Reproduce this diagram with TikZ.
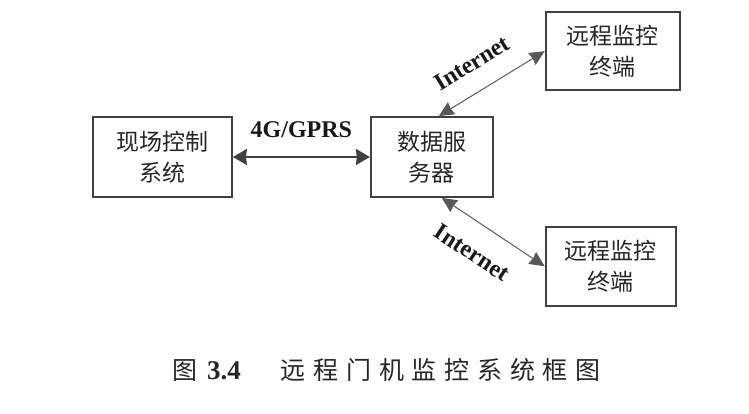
\documentclass[tikz,border=0pt]{standalone}
\usepackage{fontspec}
\setmainfont{Liberation Serif}
\newfontfamily\cjk{Noto Sans CJK SC}
\newfontfamily\cjkcap[LetterSpace=31]{Noto Sans CJK SC}
\newfontfamily\lbl{Liberation Serif}
\usetikzlibrary{positioning,arrows.meta}
\tikzset{
x=1pt, y=1pt,
block/.style={draw=black!75, line width=1.8pt, minimum height=80pt, align=center, text=black!85,
  font=\cjk\fontsize{23}{31}\selectfont},
link/.style={{Stealth[length=14pt,width=16pt,inset=1pt]}-{Stealth[length=14pt,width=16pt,inset=1pt]},
  line width=2.2pt, draw=black!75},
net/.style={{Stealth[length=15pt,width=14pt,inset=1pt]}-{Stealth[length=15pt,width=14pt,inset=1pt]},
  line width=1pt, draw=black!65},
tag/.style={font=\lbl\bfseries\fontsize{24}{28}\selectfont, text=black!90},
}

\begin{document}
\begin{tikzpicture}
        \useasboundingbox (0,0) rectangle (749,414);

        \node[block, minimum width=139pt] (site) at (162.5,257) {现场控制\\系统};
        \node[block, minimum width=122pt, right=137pt of site] (server) {数据服\\务器};
        \node[block, minimum width=134pt, minimum height=78pt, above right=25pt and 51pt of server.north east] (mon1) {远程监控\\终端};
        \node[block, minimum width=130pt, minimum height=79pt, below right=28pt and 51pt of server.south east] (mon2) {远程监控\\终端};

        \draw[link] (site) -- node[tag, above=15pt] (gprs) {4G/GPRS} (server);
        \draw[net] ([xshift=7pt]server.north) -- node[tag, sloped, above=16pt, pos=0.45] (net1) {Internet} (mon1.west);
        \draw[net] ([xshift=10pt]server.south) -- node[tag, sloped, below=17pt, pos=0.45] (net2) {Internet} (mon2.west);

        \node[anchor=west, inner sep=0pt, text=black!85] (cap) at (172,44)
            {{\cjkcap\fontsize{25}{30}\selectfont 图}\hspace{10pt}{\lbl\bfseries\fontsize{27}{30}\selectfont 3.4}\hspace{40pt}{\cjkcap\fontsize{25}{30}\selectfont 远程门机监控系统框图}};
    \end{tikzpicture}
\end{document}
